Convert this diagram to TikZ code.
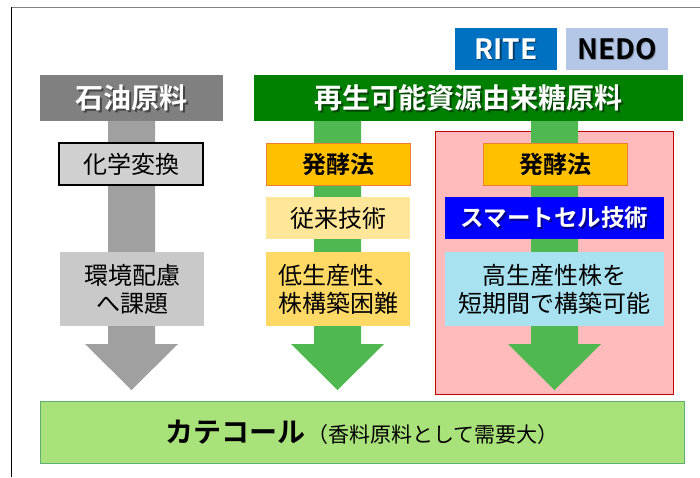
\documentclass[tikz,border=0pt]{standalone}
\usepackage{fontspec}
\setmainfont{Noto Sans CJK JP}[BoldFont={Noto Sans CJK JP Bold}]
\usetikzlibrary{calc}
\definecolor{hdrgray}{HTML}{808080}
\definecolor{shaftgray}{HTML}{A0A0A0}
\definecolor{hdrgreen}{HTML}{008000}
\definecolor{shaftgreen}{HTML}{50B850}
\definecolor{ritec}{HTML}{0070C0}
\definecolor{nedoc}{HTML}{B4C7E7}
\definecolor{chemc}{HTML}{D0D0D0}
\definecolor{envc}{HTML}{C9C9C9}
\definecolor{ferc}{HTML}{FFC000}
\definecolor{ferb}{HTML}{ED7D31}
\definecolor{convc}{HTML}{FFE699}
\definecolor{lowc}{HTML}{FFD966}
\definecolor{redf}{HTML}{FFBBBB}
\definecolor{redb}{HTML}{C00000}
\definecolor{smartc}{HTML}{0000FF}
\definecolor{highc}{HTML}{A8E2F0}
\definecolor{catf}{HTML}{A9E27A}
\definecolor{catb}{HTML}{5FAF73}
\tikzset{
  blk/.style={inner sep=0pt, align=center, font=\fontsize{24}{28}\selectfont},
  hdrtext/.style={inner sep=0pt, text=white, font=\bfseries\fontsize{28}{32}\selectfont},
  shadowtext/.style={inner sep=0pt, text=black, opacity=0.45, font=\bfseries\fontsize{28}{32}\selectfont},
  tagtext/.style={inner sep=0pt, font=\bfseries\fontsize{24}{28}\selectfont},
  latintext/.style={inner sep=0pt, font=\bfseries\fontsize{28}{32}\selectfont},
}
\begin{document}
\begin{tikzpicture}[x=1pt,y=-1pt]
\useasboundingbox (0,0) rectangle (700,477);
\fill[white] (0,0) rectangle (700,477);
% frame
\draw[hdrgray, line width=1pt] (11,7.5) -- (700,7.5);
\draw[black, line width=0.8pt] (11,7) -- (11,477);
% red highlight region
\node[draw=redb, fill=redf, line width=1.8pt, minimum width=238pt, minimum height=263pt, inner sep=0pt] (redbox) at (554.5,263) {};
% block arrows
\fill[shaftgray] (108,121) -- (155,121) -- (155,344) -- (178,344) -- (131.5,390) -- (85,344) -- (108,344) -- cycle;
\fill[shaftgreen] (314,121) -- (361,121) -- (361,344) -- (384,344) -- (337.5,390) -- (291,344) -- (314,344) -- cycle;
\fill[shaftgreen] (531,121) -- (578,121) -- (578,344) -- (601,344) -- (554.5,390) -- (508,344) -- (531,344) -- cycle;
% headers
\node[fill=hdrgray, minimum width=183pt, minimum height=46pt, inner sep=0pt] (oilhdr) at (131.5,98) {};
\node[shadowtext] (oilsh) at (133,99.5) {石油原料};
\node[hdrtext] (oiltxt) at (131.5,98) {石油原料};
\node[fill=hdrgreen, minimum width=429pt, minimum height=46pt, inner sep=0pt] (renhdr) at (468.5,98) {};
\node[shadowtext] (rensh) at (470,99.5) {再生可能資源由来糖原料};
\node[hdrtext] (rentxt) at (468.5,98) {再生可能資源由来糖原料};
% RITE / NEDO
\node[fill=ritec, minimum width=102pt, minimum height=42pt, inner sep=0pt] (rite) at (506,49) {};
\node[latintext, text=black, opacity=0.45] (ritesh) at (507.5,50.5) {RITE};
\node[latintext, text=white] (ritetxt) at (506,49) {RITE};
\node[fill=nedoc, minimum width=102pt, minimum height=42pt, inner sep=0pt] (nedo) at (617,49) {};
\node[latintext, text=black, opacity=0.25] (nedosh) at (618.5,50.5) {NEDO};
\node[latintext, text=black] (nedotxt) at (617,49) {NEDO};
% left column
\node[blk, draw=black, line width=1.2pt, fill=chemc, minimum width=144pt, minimum height=42pt] (chem) at (131,164) {化学変換};
\node[blk, fill=envc, minimum width=144pt, minimum height=74pt] (env) at (132,289) {環境配慮\\へ課題};
% middle column
\node[tagtext, draw=ferb, line width=1pt, fill=ferc, minimum width=144pt, minimum height=42pt] (fer1) at (338,164) {発酵法};
\node[blk, fill=convc, minimum width=144pt, minimum height=42pt] (conv) at (338,218) {従来技術};
\node[blk, fill=lowc, minimum width=144pt, minimum height=74pt] (low) at (338,289) {低生産性、\\株構築困難};
% right column
\node[tagtext, draw=ferb, line width=1pt, fill=ferc, minimum width=144pt, minimum height=42pt] (fer2) at (555,164) {発酵法};
\node[fill=smartc, minimum width=219pt, minimum height=42pt, inner sep=0pt] (smart) at (554.5,218) {};
\node[inner sep=0pt, text=black, opacity=0.45, font=\bfseries\fontsize{23.5}{28}\selectfont] (smartsh) at (556,219.5) {スマートセル技術};
\node[inner sep=0pt, text=white, font=\bfseries\fontsize{23.5}{28}\selectfont] (smarttxt) at (554.5,218) {スマートセル技術};
\node[blk, fill=highc, minimum width=219pt, minimum height=74pt] (high) at (554.5,289) {高生産性株を\\短期間で構築可能};
% bottom
\node[draw=catb, line width=1pt, fill=catf, minimum width=644pt, minimum height=62pt, inner sep=0pt] (cat) at (362,432) {{\bfseries\fontsize{28}{32}\selectfont カテコール}\,{\fontsize{21}{24}\selectfont （香料原料として需要大）}};
\end{tikzpicture}
\end{document}
